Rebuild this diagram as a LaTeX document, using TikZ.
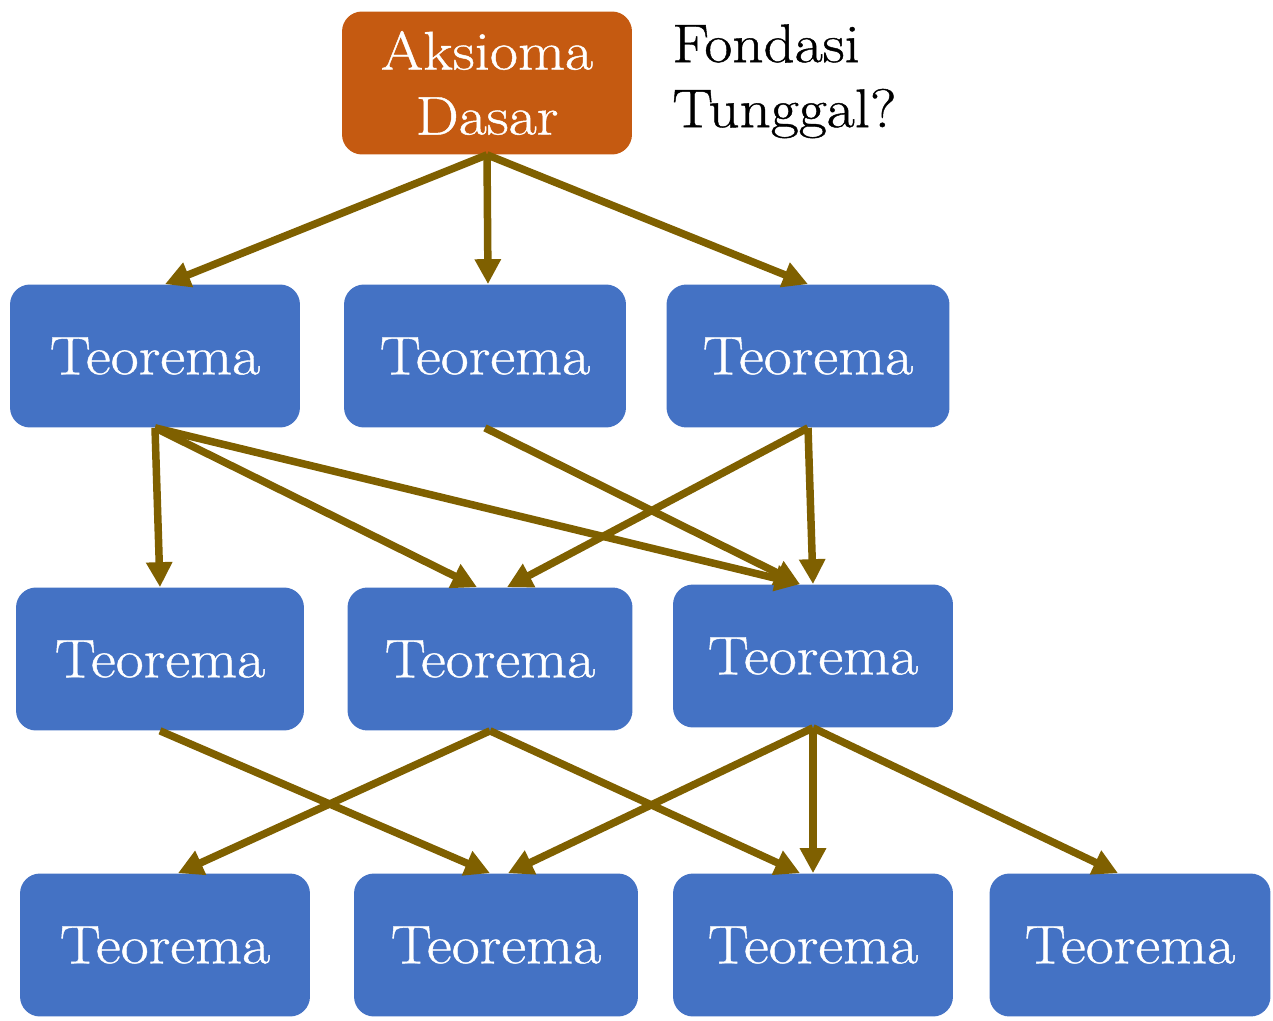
\documentclass[tikz,border=0pt]{standalone}
\usepackage{fontspec}
\setmainfont{Latin Modern Roman}[FakeStretch=1.12, FakeBold=0.8]
\usetikzlibrary{arrows.meta}
\definecolor{teoblue}{HTML}{4472C4}
\definecolor{aksorange}{HTML}{C55A11}
\definecolor{linkbrown}{HTML}{7F6000}
\begin{document}
\begin{tikzpicture}
[x=0.02cm, y=-0.02cm,
box/.style={rounded corners=0.4cm, fill=teoblue, text=white, inner sep=0pt,
            minimum width=5.7cm, minimum height=2.86cm, align=center,
            font=\fontsize{31}{37}\selectfont},
link/.style={draw=linkbrown, line width=0.15cm,
             -{Triangle[width=0.5cm,length=0.5cm]}}
]
\useasboundingbox (0,0) rectangle (1273,1020);
%top
\node[box, fill=aksorange, minimum width=5.8cm] (aksioma) at (487,83) {Aksioma\\Dasar};
\node[anchor=north west, align=left, inner sep=0pt,
      font=\fontsize{31}{37}\selectfont] (fondasi) at (672,24) {Fondasi\\Tunggal?};
%row 1
\node[box, minimum width=5.8cm] (t11) at (155,356) {Teorema};
\node[box, minimum width=5.64cm] (t12) at (485,356) {Teorema};
\node[box, minimum width=5.66cm] (t13) at (808,356) {Teorema};
%row 2
\node[box, minimum width=5.76cm] (t21) at (160,659) {Teorema};
\node[box] (t22) at (490,659) {Teorema};
\node[box, minimum width=5.6cm] (t23) at (813,656) {Teorema};
%row 3
\node[box, minimum width=5.8cm] (t31) at (165,945) {Teorema};
\node[box, minimum width=5.68cm] (t32) at (496,945) {Teorema};
\node[box, minimum width=5.6cm] (t33) at (813,945) {Teorema};
\node[box, minimum width=5.62cm] (t34) at (1130,945) {Teorema};
%links
\draw[link] (aksioma.south) -- ([xshift=0.2cm]t11.north);
\draw[link] (aksioma.south) -- ([xshift=0.06cm]t12.north);
\draw[link] (aksioma.south) -- (t13.north);
\draw[link] (t11.south) -- (t21.north);
\draw[link] (t11.south) -- ([xshift=-0.26cm]t22.north);
\draw[link] (t11.south) -- ([xshift=-0.26cm]t23.north);
\draw[link] (t12.south) -- ([xshift=-0.26cm]t23.north);
\draw[link] (t13.south) -- ([xshift=0.34cm]t22.north);
\draw[link] (t13.south) -- (t23.north);
\draw[link] (t21.south) -- ([xshift=-0.12cm]t32.north);
\draw[link] (t22.south) -- ([xshift=0.26cm]t31.north);
\draw[link] (t22.south) -- ([xshift=-0.26cm]t33.north);
\draw[link] (t23.south) -- ([xshift=0.24cm]t32.north);
\draw[link] (t23.south) -- (t33.north);
\draw[link] (t23.south) -- ([xshift=-0.24cm]t34.north);
\end{tikzpicture}
\end{document}
